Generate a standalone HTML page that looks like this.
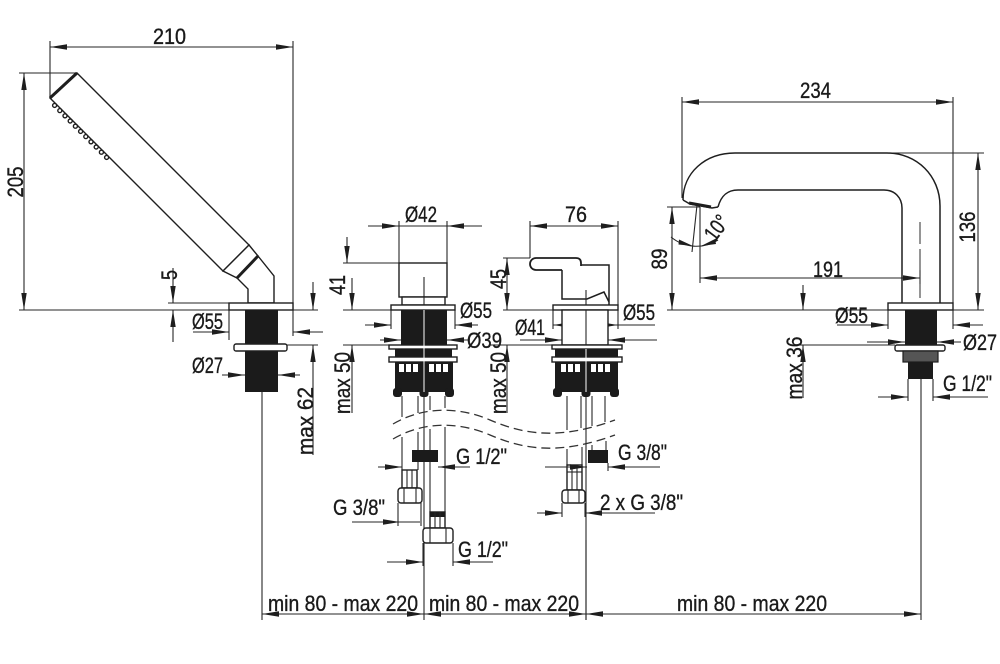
<!DOCTYPE html>
<html><head><meta charset="utf-8">
<style>
html,body{margin:0;padding:0;background:#fff;}
svg{display:block}
.l{stroke:#262626;stroke-width:1.1;fill:none}
.o{stroke:#1e1e1e;stroke-width:1.4;fill:#fff}
.k{stroke:#1e1e1e;stroke-width:1.5;fill:none}
.b{fill:#1b1b1b}
text{font-family:"Liberation Sans Narrow","Liberation Sans",Arial,sans-serif;font-size:22px;fill:#1a1a1a;stroke:#1a1a1a;stroke-width:0.35px}
</style></head><body>
<svg width="1000" height="664" viewBox="0 0 1000 664" xmlns="http://www.w3.org/2000/svg">
<defs>
<marker id="a" markerUnits="userSpaceOnUse" markerWidth="17" markerHeight="6" refX="17" refY="3" orient="auto-start-reverse"><path d="M0,0.3 L17,3 L0,5.7z" fill="#1e1e1e"/></marker>
</defs>
<rect width="1000" height="664" fill="#fff"/>

<!-- ============ LEFT: HAND SHOWER ============ -->
<line class="l" x1="50" y1="47" x2="293" y2="47" marker-start="url(#a)" marker-end="url(#a)"/>
<line class="l" x1="50" y1="41" x2="50" y2="98"/>
<line class="l" x1="293" y1="41" x2="293" y2="336"/>
<line class="l" x1="24" y1="73" x2="24" y2="310" marker-start="url(#a)" marker-end="url(#a)"/>
<line class="l" x1="19" y1="73" x2="77" y2="73"/>
<line class="l" x1="19" y1="310" x2="229" y2="310"/>
<line class="l" x1="168" y1="303" x2="229" y2="303"/>
<line class="l" x1="173" y1="268" x2="173" y2="303" marker-end="url(#a)"/>
<line class="l" x1="173" y1="342" x2="173" y2="310" marker-end="url(#a)"/>
<line class="l" x1="193" y1="332" x2="229" y2="332" marker-end="url(#a)"/>
<line class="l" x1="323" y1="332" x2="293" y2="332" marker-end="url(#a)"/>
<line class="l" x1="229" y1="310" x2="229" y2="340"/>
<line class="l" x1="222" y1="375" x2="245" y2="375" marker-end="url(#a)"/>
<line class="l" x1="300" y1="375" x2="278" y2="375" marker-end="url(#a)"/>
<line class="l" x1="313" y1="282" x2="313" y2="310" marker-end="url(#a)"/>
<line class="l" x1="313" y1="455" x2="313" y2="345" marker-end="url(#a)"/>
<line class="l" x1="293" y1="310" x2="318" y2="310"/>
<line class="l" x1="287" y1="345" x2="318" y2="345"/>

<polygon class="o" points="77,73 249,245 223,271 50,98"/>
<line x1="50" y1="98" x2="77" y2="73" stroke="#1e1e1e" stroke-width="3"/>
<g fill="#fff" stroke="#1e1e1e" stroke-width="1.4">
<circle cx="54.6" cy="105.4" r="2"/><circle cx="59.8" cy="110.6" r="2"/><circle cx="65" cy="115.8" r="2"/>
<circle cx="70.2" cy="121" r="2"/><circle cx="75.4" cy="126.2" r="2"/><circle cx="80.6" cy="131.4" r="2"/>
<circle cx="85.8" cy="136.6" r="2"/><circle cx="91" cy="141.8" r="2"/><circle cx="96.2" cy="147" r="2"/>
<circle cx="101.4" cy="152.2" r="2"/><circle cx="106.6" cy="157.4" r="2"/>
</g>
<polygon class="o" points="249,245 258,256 237,278 223,271"/>
<polygon class="o" points="237,278 248,289 248,303 274,303 274,276 258,256"/>
<line x1="237" y1="278" x2="258" y2="256" stroke="#1e1e1e" stroke-width="3"/>
<rect class="o" x="229" y="303" width="64" height="7"/>
<rect class="b" x="245" y="310" width="33" height="82"/>
<rect class="o" x="234" y="344" width="53" height="7" rx="2"/>
<line class="l" x1="262" y1="392" x2="262" y2="620"/>

<text x="153" y="44" textLength="33" lengthAdjust="spacingAndGlyphs">210</text>
<text transform="translate(15,182) rotate(-90)" x="-15.5" y="8" textLength="31" lengthAdjust="spacingAndGlyphs">205</text>
<text transform="translate(169,275) rotate(-90)" x="-5" y="8" textLength="10" lengthAdjust="spacingAndGlyphs">5</text>
<text x="192" y="329" textLength="31" lengthAdjust="spacingAndGlyphs">Ø55</text>
<text x="192" y="373" textLength="31" lengthAdjust="spacingAndGlyphs">Ø27</text>
<text transform="translate(305,421) rotate(-90)" x="-34" y="8" textLength="68" lengthAdjust="spacingAndGlyphs">max 62</text>

<!-- ============ MIDDLE LEFT ============ -->
<line class="l" x1="368" y1="226" x2="399" y2="226" marker-end="url(#a)"/>
<line class="l" x1="482" y1="226" x2="447" y2="226" marker-end="url(#a)"/>
<line class="l" x1="399" y1="226" x2="447" y2="226"/>
<line class="l" x1="399" y1="221" x2="399" y2="263"/>
<line class="l" x1="447" y1="221" x2="447" y2="263"/>
<line class="l" x1="347" y1="237" x2="347" y2="263" marker-end="url(#a)"/>
<line class="l" x1="352" y1="278" x2="352" y2="310" marker-end="url(#a)"/>
<line class="l" x1="352" y1="413" x2="352" y2="345" marker-end="url(#a)"/>
<line class="l" x1="343" y1="263" x2="399" y2="263"/>
<line class="l" x1="343" y1="310" x2="391" y2="310"/>
<line class="l" x1="343" y1="345" x2="389" y2="345"/>
<line class="l" x1="365" y1="325" x2="391" y2="325" marker-end="url(#a)"/>
<line class="l" x1="478" y1="325" x2="455" y2="325" marker-end="url(#a)"/>
<line class="l" x1="391" y1="310" x2="391" y2="329"/>
<line class="l" x1="455" y1="310" x2="455" y2="329"/>
<line class="l" x1="380" y1="340" x2="401" y2="340" marker-end="url(#a)"/>
<line class="l" x1="468" y1="340" x2="447" y2="340" marker-end="url(#a)"/>

<line class="l" x1="424" y1="277" x2="424" y2="620"/>
<rect class="o" x="399" y="263" width="48" height="34" fill-opacity="0"/>
<rect class="o" x="402" y="297" width="43" height="8"/>
<line class="l" x1="424" y1="297" x2="424" y2="305"/>
<rect class="o" x="391" y="305" width="64" height="5"/>
<rect class="b" x="401" y="310" width="46" height="35"/>
<rect class="o" x="389" y="345" width="68" height="4"/>
<rect class="b" x="395" y="349" width="57" height="8"/>
<rect class="o" x="389" y="357" width="68" height="5"/>
<rect class="b" x="395" y="362" width="58" height="30"/>
<g fill="#fff">
<rect x="399" y="364" width="5" height="8"/><rect x="406" y="364" width="5" height="8"/><rect x="413" y="364" width="5" height="8"/>
<rect x="429" y="364" width="5" height="8"/><rect x="436" y="364" width="5" height="8"/><rect x="443" y="364" width="5" height="8"/>
</g>
<rect class="b" x="393" y="388" width="9" height="9" rx="3"/>
<rect class="b" x="419.5" y="388" width="9" height="9" rx="3"/>
<rect class="b" x="445" y="388" width="9" height="9" rx="3"/>
<line x1="424" y1="310" x2="424" y2="392" stroke="#fff" stroke-width="1"/>

<!-- pipes -->
<g class="l">
<line x1="402" y1="396" x2="402" y2="417"/><line x1="418" y1="396" x2="418" y2="413"/>
<line x1="430" y1="396" x2="430" y2="410"/><line x1="445" y1="396" x2="445" y2="408"/>
<line x1="402" y1="437" x2="402" y2="470"/><line x1="418" y1="432" x2="418" y2="470"/>
<line x1="430" y1="429" x2="430" y2="512"/><line x1="445" y1="427" x2="445" y2="512"/>
</g>
<rect class="b" x="412" y="450" width="26" height="12"/>
<rect class="o" x="402" y="470" width="15" height="18" stroke-width="1.6"/>
<line class="l" x1="407" y1="470" x2="407" y2="488"/><line class="l" x1="412" y1="470" x2="412" y2="488"/>
<rect class="o" x="398" y="488" width="24" height="15" rx="3" stroke-width="1.6"/>
<line class="l" x1="404" y1="488" x2="404" y2="503"/><line class="l" x1="416" y1="488" x2="416" y2="503"/>
<rect class="o" x="430" y="512" width="15" height="16" stroke-width="1.6"/>
<rect class="b" x="430" y="512" width="15" height="5"/>
<line class="l" x1="435" y1="512" x2="435" y2="528"/><line class="l" x1="440" y1="512" x2="440" y2="528"/>
<rect class="o" x="423" y="528" width="30" height="15" rx="3" stroke-width="1.6"/>
<line class="l" x1="430" y1="528" x2="430" y2="543"/><line class="l" x1="446" y1="528" x2="446" y2="543"/>

<!-- dims G -->
<line class="l" x1="378" y1="467" x2="402" y2="467" marker-end="url(#a)"/>
<line class="l" x1="470" y1="467" x2="438" y2="467" marker-end="url(#a)"/>
<line class="l" x1="352" y1="522" x2="400" y2="522" marker-end="url(#a)"/>
<line class="l" x1="400" y1="522" x2="420" y2="522"/>
<line class="l" x1="398" y1="503" x2="398" y2="526"/>
<line class="l" x1="421" y1="503" x2="421" y2="526"/>
<line class="l" x1="387" y1="562" x2="423" y2="562" marker-end="url(#a)"/>
<line class="l" x1="493" y1="562" x2="453" y2="562" marker-end="url(#a)"/>
<line class="l" x1="423" y1="543" x2="423" y2="566"/>
<line class="l" x1="453" y1="543" x2="453" y2="566"/>

<text x="405" y="222" textLength="32" lengthAdjust="spacingAndGlyphs">Ø42</text>
<text transform="translate(337,285) rotate(-90)" x="-10" y="8" textLength="20" lengthAdjust="spacingAndGlyphs">41</text>
<text transform="translate(342,383) rotate(-90)" x="-31" y="8" textLength="62" lengthAdjust="spacingAndGlyphs">max 50</text>
<text x="460" y="318" textLength="32" lengthAdjust="spacingAndGlyphs">Ø55</text>
<text x="467" y="348" textLength="35" lengthAdjust="spacingAndGlyphs">Ø39</text>
<text x="456" y="464" textLength="51" lengthAdjust="spacingAndGlyphs">G 1/2"</text>
<text x="333" y="515" textLength="52" lengthAdjust="spacingAndGlyphs">G 3/8"</text>
<text x="458" y="557" textLength="50" lengthAdjust="spacingAndGlyphs">G 1/2"</text>

<!-- wave break lines -->
<path d="M393,424 C420,408 455,405 490,420 S560,440 615,420" fill="none" stroke="#333" stroke-width="1.3" stroke-dasharray="9 5"/>
<path d="M393,439 C420,423 455,420 490,435 S560,455 615,435" fill="none" stroke="#333" stroke-width="1.3" stroke-dasharray="9 5"/>

<!-- ============ MIDDLE RIGHT ============ -->
<line class="l" x1="530" y1="226" x2="618" y2="226" marker-start="url(#a)" marker-end="url(#a)"/>
<line class="l" x1="530" y1="221" x2="530" y2="258"/>
<line class="l" x1="618" y1="221" x2="618" y2="305"/>
<line class="l" x1="507" y1="258" x2="507" y2="310" marker-start="url(#a)" marker-end="url(#a)"/>
<line class="l" x1="507" y1="413" x2="507" y2="345" marker-end="url(#a)"/>
<line class="l" x1="503" y1="258" x2="530" y2="258"/>
<line class="l" x1="503" y1="310" x2="553" y2="310"/>
<line class="l" x1="490" y1="345" x2="552" y2="345"/>
<line class="l" x1="553" y1="325" x2="618" y2="325" marker-start="url(#a)" marker-end="url(#a)"/>
<line class="l" x1="618" y1="325" x2="655" y2="325"/>
<line class="l" x1="553" y1="310" x2="553" y2="329"/>
<line class="l" x1="618" y1="310" x2="618" y2="329"/>
<line class="l" x1="520" y1="340" x2="562" y2="340" marker-end="url(#a)"/>
<line class="l" x1="657" y1="340" x2="608" y2="340" marker-end="url(#a)"/>

<line class="l" x1="586" y1="290" x2="586" y2="620"/>
<path d="M562,265 H609 V305 H562 Z" fill="#fff" stroke="none"/>
<path class="k" d="M562,265 H609 V305 M562,265 V299 H587 L604,292 L609,302"/>
<line class="l" x1="586" y1="290" x2="586" y2="305"/>
<path d="M562,270 H536 A6,6 0 0,1 536,258 H576 Q581,258 581,263 V266" fill="#fff" stroke="#1e1e1e" stroke-width="1.8"/>
<rect class="o" x="553" y="305" width="65" height="5"/>
<rect class="o" x="562" y="310" width="46" height="35"/>
<line class="l" x1="586" y1="310" x2="586" y2="345"/>
<rect class="o" x="552" y="345" width="70" height="4"/>
<rect class="b" x="555" y="349" width="63" height="8"/>
<rect class="o" x="552" y="357" width="70" height="5"/>
<rect class="b" x="555" y="362" width="63" height="30"/>
<g fill="#fff">
<rect x="561" y="364" width="5" height="8"/><rect x="568" y="364" width="5" height="8"/><rect x="575" y="364" width="5" height="8"/>
<rect x="591" y="364" width="5" height="8"/><rect x="598" y="364" width="5" height="8"/><rect x="605" y="364" width="5" height="8"/>
</g>
<rect class="b" x="553" y="388" width="9" height="9" rx="3"/>
<rect class="b" x="581.5" y="388" width="9" height="9" rx="3"/>
<rect class="b" x="610" y="388" width="9" height="9" rx="3"/>
<line x1="586" y1="349" x2="586" y2="392" stroke="#fff" stroke-width="1"/>

<g class="l">
<line x1="567" y1="396" x2="567" y2="430"/><line x1="581" y1="396" x2="581" y2="428"/>
<line x1="592" y1="396" x2="592" y2="426"/><line x1="605" y1="396" x2="605" y2="422"/>
<line x1="567" y1="449" x2="567" y2="465"/><line x1="582" y1="447" x2="582" y2="465"/>
<line x1="592" y1="445" x2="592" y2="450"/><line x1="606" y1="441" x2="606" y2="450"/>
</g>
<rect class="b" x="588" y="450" width="20" height="13"/>
<rect class="o" x="567" y="465" width="15" height="25" stroke-width="1.6"/>
<line class="l" x1="567" y1="472" x2="582" y2="472"/>
<line class="l" x1="572" y1="465" x2="572" y2="490"/><line class="l" x1="577" y1="465" x2="577" y2="490"/>
<rect class="o" x="562" y="490" width="23" height="13" rx="3" stroke-width="1.6"/>
<line class="l" x1="568" y1="490" x2="568" y2="503"/><line class="l" x1="579" y1="490" x2="579" y2="503"/>

<line class="l" x1="545" y1="467" x2="587" y2="467" marker-end="url(#a)"/>
<line class="l" x1="660" y1="467" x2="608" y2="467" marker-end="url(#a)"/>
<line class="l" x1="608" y1="463" x2="608" y2="471"/>
<line class="l" x1="537" y1="513" x2="562" y2="513" marker-end="url(#a)"/>
<line class="l" x1="655" y1="513" x2="585" y2="513" marker-end="url(#a)"/>
<line class="l" x1="562" y1="503" x2="562" y2="517"/>
<line class="l" x1="585" y1="503" x2="585" y2="517"/>

<text x="565" y="222" textLength="22" lengthAdjust="spacingAndGlyphs">76</text>
<text transform="translate(498,279) rotate(-90)" x="-10" y="8" textLength="20" lengthAdjust="spacingAndGlyphs">45</text>
<text transform="translate(498,383) rotate(-90)" x="-31" y="8" textLength="62" lengthAdjust="spacingAndGlyphs">max 50</text>
<text x="623" y="320" textLength="32" lengthAdjust="spacingAndGlyphs">Ø55</text>
<text x="515" y="335" textLength="30" lengthAdjust="spacingAndGlyphs">Ø41</text>
<text x="618" y="460" textLength="49" lengthAdjust="spacingAndGlyphs">G 3/8"</text>
<text x="600" y="510" textLength="83" lengthAdjust="spacingAndGlyphs">2 x G 3/8"</text>

<!-- ============ RIGHT: SPOUT ============ -->
<line class="l" x1="682" y1="102" x2="953" y2="102" marker-start="url(#a)" marker-end="url(#a)"/>
<line class="l" x1="682" y1="97" x2="682" y2="198"/>
<line class="l" x1="953" y1="97" x2="953" y2="303"/>
<line class="l" x1="978" y1="153" x2="978" y2="310" marker-start="url(#a)" marker-end="url(#a)"/>
<line class="l" x1="887" y1="153" x2="984" y2="153"/>
<line class="l" x1="953" y1="310" x2="984" y2="310"/>
<line class="l" x1="672" y1="207" x2="672" y2="310" marker-start="url(#a)" marker-end="url(#a)"/>
<line class="l" x1="667" y1="207" x2="700" y2="207"/>
<line class="l" x1="667" y1="310" x2="888" y2="310"/>
<line class="l" x1="700" y1="207" x2="700" y2="283"/>
<line class="l" x1="697" y1="205" x2="692" y2="252"/>
<path class="l" d="M671,237 A40,40 0 0,0 718,240"/>
<polygon points="693,246 679,239.5 678.5,244.5" fill="#1e1e1e"/>
<polygon points="701,246 715,239 716,244" fill="#1e1e1e"/>
<line class="l" x1="700" y1="278" x2="920" y2="278" marker-start="url(#a)" marker-end="url(#a)"/>
<line class="l" x1="920" y1="270" x2="920" y2="284"/>

<path class="k" d="M683,200 C683,173 705,153 735,153 L887,153 C917,153 940,176 940,206 L940,303"/>
<path class="k" d="M718,207 C721,196 727,190 738,190 L884,190 C895,190 902,198 902,208 L902,303"/>
<path class="k" d="M683,200 L690,204 L712,208 L718,207"/>
<line x1="689" y1="203" x2="711" y2="207" stroke="#1e1e1e" stroke-width="3"/>
<line x1="920" y1="222" x2="920" y2="303" stroke="#2b2b2b" stroke-width="1" stroke-dasharray="22 5"/>
<rect class="o" x="888" y="303" width="65" height="7"/>
<line class="l" x1="921" y1="378" x2="921" y2="620"/>
<rect class="b" x="905" y="310" width="32" height="36"/>
<rect class="o" x="895" y="345" width="50" height="6" rx="2"/>
<rect x="903" y="351" width="35" height="11" fill="#555" stroke="#1e1e1e" stroke-width="1.2"/>
<rect class="b" x="908" y="362" width="25" height="17"/>

<line class="l" x1="803" y1="285" x2="803" y2="310" marker-end="url(#a)"/>
<line class="l" x1="803" y1="398" x2="803" y2="345" marker-end="url(#a)"/>
<line class="l" x1="799" y1="345" x2="895" y2="345"/>
<line class="l" x1="837" y1="325" x2="888" y2="325" marker-end="url(#a)"/>
<line class="l" x1="983" y1="325" x2="953" y2="325" marker-end="url(#a)"/>
<line class="l" x1="888" y1="310" x2="888" y2="329"/>
<line class="l" x1="953" y1="310" x2="953" y2="329"/>
<line class="l" x1="867" y1="342" x2="905" y2="342" marker-end="url(#a)"/>
<line class="l" x1="961" y1="342" x2="937" y2="342" marker-end="url(#a)"/>
<line class="l" x1="878" y1="397" x2="908" y2="397" marker-end="url(#a)"/>
<line class="l" x1="988" y1="397" x2="933" y2="397" marker-end="url(#a)"/>
<line class="l" x1="908" y1="379" x2="908" y2="401"/>
<line class="l" x1="933" y1="379" x2="933" y2="401"/>

<text x="800" y="98" textLength="31" lengthAdjust="spacingAndGlyphs">234</text>
<text transform="translate(967,227) rotate(-90)" x="-15.5" y="8" textLength="31" lengthAdjust="spacingAndGlyphs">136</text>
<text transform="translate(659,259) rotate(-90)" x="-10.5" y="8" textLength="21" lengthAdjust="spacingAndGlyphs">89</text>
<text transform="translate(717,228) rotate(-53)" x="-13" y="7" textLength="26" lengthAdjust="spacingAndGlyphs">10°</text>
<text x="813" y="277" textLength="30" lengthAdjust="spacingAndGlyphs">191</text>
<text x="835" y="323" textLength="33" lengthAdjust="spacingAndGlyphs">Ø55</text>
<text x="963" y="350" textLength="34" lengthAdjust="spacingAndGlyphs">Ø27</text>
<text x="943" y="391" textLength="49" lengthAdjust="spacingAndGlyphs">G 1/2"</text>
<text transform="translate(794,368) rotate(-90)" x="-31.5" y="8" textLength="63" lengthAdjust="spacingAndGlyphs">max 36</text>

<!-- ============ BOTTOM DIMENSIONS ============ -->
<line class="l" x1="586" y1="540" x2="586" y2="620"/>
<line class="l" x1="262" y1="614" x2="424" y2="614" marker-start="url(#a)" marker-end="url(#a)"/>
<line class="l" x1="424" y1="614" x2="586" y2="614" marker-start="url(#a)" marker-end="url(#a)"/>
<line class="l" x1="586" y1="614" x2="921" y2="614" marker-start="url(#a)" marker-end="url(#a)"/>
<text x="268" y="611" textLength="150" lengthAdjust="spacingAndGlyphs">min 80 - max 220</text>
<text x="429" y="611" textLength="150" lengthAdjust="spacingAndGlyphs">min 80 - max 220</text>
<text x="677" y="611" textLength="150" lengthAdjust="spacingAndGlyphs">min 80 - max 220</text>
</svg>
</body></html>
